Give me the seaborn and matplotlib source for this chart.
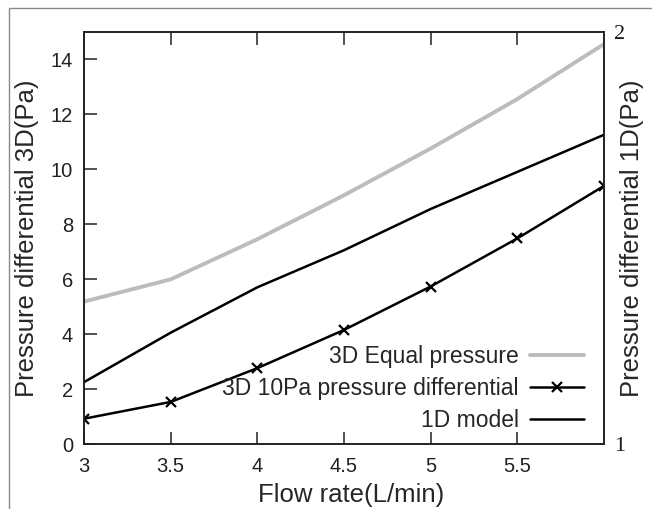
"""
Pressure differential vs flow rate, 3D simulations against the 1D model.
"""

import matplotlib
matplotlib.use("Agg")
import matplotlib.pyplot as plt
from matplotlib.patches import Rectangle
import seaborn as sns

# values
flow_rate = [3, 3.5, 4, 4.5, 5, 5.5, 6]
equal_3d = [5.18, 5.99, 7.45, 9.05, 10.75, 12.55, 14.55]
diff10_3d = [0.92, 1.53, 2.76, 4.15, 5.73, 7.48, 9.39]
# 1D model is read on the right-hand axis (1..2 Pa)
model_1d = [1.15, 1.27, 1.38, 1.47, 1.57, 1.66, 1.75]

x_ticks = [3, 3.5, 4, 4.5, 5, 5.5]
y_ticks = [0, 2, 4, 6, 8, 10, 12, 14]
y2_ticks = [1, 2]

sns.set_style("ticks")
plt.rcParams["font.family"] = ["Liberation Sans", "DejaVu Sans"]

fig = plt.figure(figsize=(6.52, 5.09), dpi=100)
ax = fig.add_axes([84 / 652, 1 - 444 / 509, 520 / 652, 412.3 / 509])
ax2 = ax.twinx()

sns.lineplot(x=flow_rate, y=equal_3d, ax=ax, color="#bcbcbc", lw=2.8,
             label="3D Equal pressure")
sns.lineplot(x=flow_rate, y=diff10_3d, ax=ax, color="black", lw=1.8,
             marker="x", markersize=7, markeredgewidth=1.6, markeredgecolor="black",
             label="3D 10Pa pressure differential")
sns.lineplot(x=flow_rate, y=model_1d, ax=ax2, color="black", lw=1.8,
             label="1D model")

ax.set_xlim(3, 6)
ax.set_ylim(0, 15)
ax2.set_ylim(1, 2)

ax.set_xticks(x_ticks)
ax.set_xticklabels([f"{t:g}" for t in x_ticks])
ax.set_yticks(y_ticks)
ax.tick_params(axis="both", direction="in", length=9, width=1.1,
               labelsize=14.5, pad=8, colors="#222222")
ax.tick_params(axis="x", top=True, pad=9)
ax.tick_params(axis="y", right=False)

ax2.set_yticks(y2_ticks)
ax2.tick_params(axis="y", length=0, pad=7, labelsize=16, colors="#1a1a1a")
for lbl in ax2.get_yticklabels():
    lbl.set_fontfamily("Liberation Serif")

for a in (ax, ax2):
    for sp in a.spines.values():
        sp.set_color("#222222")
        sp.set_linewidth(1.2)

ax.set_xlabel("Flow rate(L/min)", fontsize=18.5, va="center")
ax.xaxis.set_label_coords(0.5135, -0.124)
ax.set_ylabel("Pressure differential 3D(Pa)", fontsize=18.5, va="center")
ax.yaxis.set_label_coords(-0.1096, 0.5)
ax2.set_ylabel("Pressure differential 1D(Pa)", fontsize=18.5, va="center",
               rotation=90)
ax2.yaxis.set_label_coords(1.0538, 0.5)

# one legend for both axes, labels in front of the handles
h1, l1 = ax.get_legend_handles_labels()
h2, l2 = ax2.get_legend_handles_labels()
ax.get_legend().remove()
ax2.get_legend().remove()
ax2.legend(h1 + h2, l1 + l2, loc="lower right", bbox_to_anchor=(0.9615, 0.028),
           frameon=False, markerfirst=False, fontsize=16.5, handlelength=2.35,
           handletextpad=0.5, labelspacing=0.4, borderpad=0, borderaxespad=0)

# thin outer frame of the original screenshot
fig.patches.append(Rectangle((9 / 652, -0.2), 1.2, 0.2 + 1 - 8 / 509,
                             transform=fig.transFigure, fill=False,
                             edgecolor="#8a8a8a", lw=1.0))

fig.savefig("out.png", dpi=100)
